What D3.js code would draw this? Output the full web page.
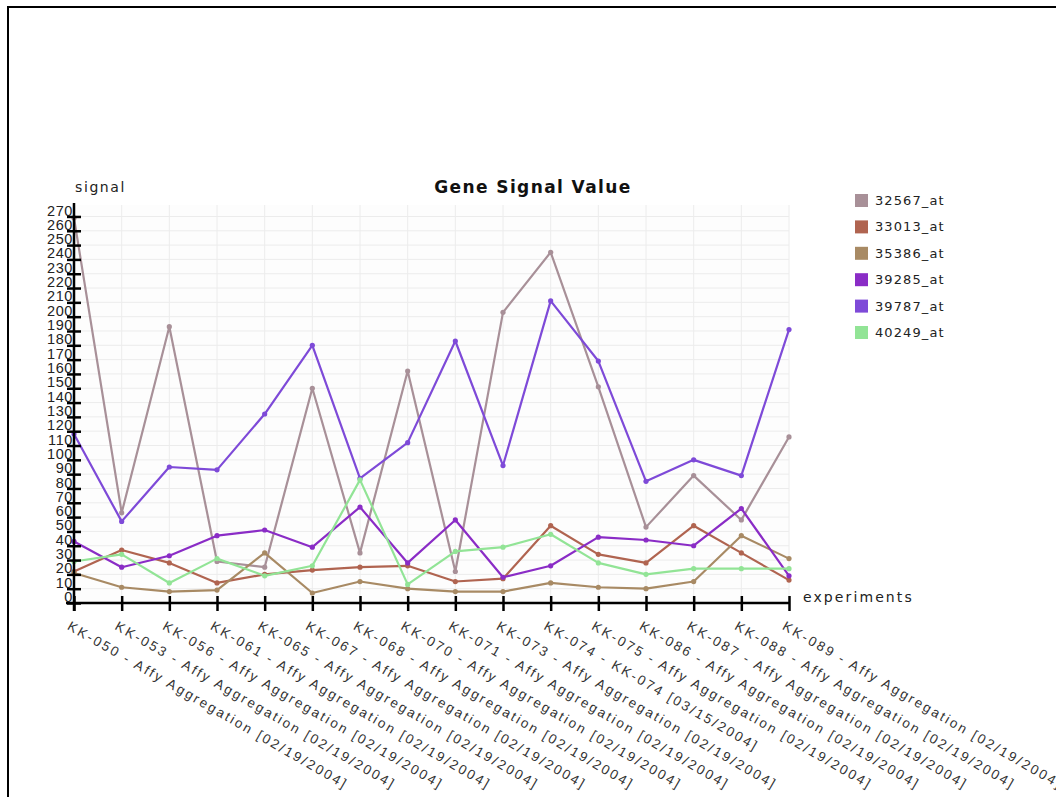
<!DOCTYPE html>
<html>
<head>
<meta charset="utf-8">
<script src="https://cdn.jsdelivr.net/npm/d3@7.9.0/dist/d3.min.js"></script>
<style>
  body { margin: 0; background: #fff; }
  svg { display: block; font-family: 'DejaVu Sans', Verdana, sans-serif; }
</style>
</head>
<body>
<div id="chart"></div>
<script>
const experiments = [
  'KK-050 - Affy Aggregation [02/19/2004]',
  'KK-053 - Affy Aggregation [02/19/2004]',
  'KK-056 - Affy Aggregation [02/19/2004]',
  'KK-061 - Affy Aggregation [02/19/2004]',
  'KK-065 - Affy Aggregation [02/19/2004]',
  'KK-067 - Affy Aggregation [02/19/2004]',
  'KK-068 - Affy Aggregation [02/19/2004]',
  'KK-070 - Affy Aggregation [02/19/2004]',
  'KK-071 - Affy Aggregation [02/19/2004]',
  'KK-073 - Affy Aggregation [02/19/2004]',
  'KK-074 - KK-074 [03/15/2004]',
  'KK-075 - Affy Aggregation [02/19/2004]',
  'KK-086 - Affy Aggregation [02/19/2004]',
  'KK-087 - Affy Aggregation [02/19/2004]',
  'KK-088 - Affy Aggregation [02/19/2004]',
  'KK-089 - Affy Aggregation [02/19/2004]'
];

const genes = ['32567_at', '33013_at', '35386_at', '39285_at', '39787_at', '40249_at'];
const geneColors = ['#a89098', '#b06450', '#a88a64', '#8a2cc6', '#7e4ad8', '#92e496'];

const s32567 = [269, 63, 193, 29, 25, 150, 35, 162, 22, 203, 245, 151, 53, 89, 58, 116];
const s33013 = [22, 37, 28, 14, 20, 23, 25, 26, 15, 17, 54, 34, 28, 54, 35, 16];
const s35386 = [21, 11, 8, 9, 35, 7, 15, 10, 8, 8, 14, 11, 10, 15, 47, 31];
const s39285 = [43, 25, 33, 47, 51, 39, 67, 28, 58, 18, 26, 46, 44, 40, 66, 19];
const s39787 = [118, 57, 95, 93, 132, 180, 87, 112, 183, 96, 211, 169, 85, 100, 89, 191];
const s40249 = [29, 34, 14, 31, 19, 26, 86, 13, 36, 39, 48, 28, 20, 24, 24, 24];

const yTicks = d3.range(0, 271, 10);

const seriesValues = [s32567, s33013, s35386, s39285, s39787, s40249];

function renderChart() {
  const width = 1056;
  const height = 797;

  const svg = d3.select('#chart')
    .append('svg')
    .attr('width', width)
    .attr('height', height);

  // frame around the image
  svg.append('path')
    .attr('d', `M8,${height} L8,7 L${width},7`)
    .attr('fill', 'none')
    .attr('stroke', '#000')
    .attr('stroke-width', 2);

  const plot = { left: 74, right: 789, top: 205, bottom: 603 };

  const xScale = d3.scalePoint()
    .domain(experiments)
    .range([plot.left, plot.right]);

  const yScale = d3.scaleLinear()
    .domain([0, 278])
    .range([plot.bottom, plot.top]);

  // panel background and gridlines
  svg.append('rect')
    .attr('x', plot.left)
    .attr('y', plot.top)
    .attr('width', plot.right - plot.left)
    .attr('height', plot.bottom - plot.top)
    .attr('fill', '#fdfdfd');

  const grid = svg.append('g').attr('class', 'grid');
  grid.selectAll('line.h')
    .data(yTicks)
    .join('line')
    .attr('class', 'h')
    .attr('x1', plot.left)
    .attr('x2', plot.right)
    .attr('y1', (d) => yScale(d))
    .attr('y2', (d) => yScale(d))
    .attr('stroke', '#ececec')
    .attr('stroke-width', 1);
  grid.selectAll('line.v')
    .data(experiments)
    .join('line')
    .attr('class', 'v')
    .attr('x1', (d) => xScale(d))
    .attr('x2', (d) => xScale(d))
    .attr('y1', plot.top)
    .attr('y2', plot.bottom)
    .attr('stroke', '#ececec')
    .attr('stroke-width', 1);

  // series
  const line = d3.line()
    .x((d, i) => xScale(experiments[i]))
    .y((d) => yScale(d));

  const series = svg.append('g').attr('class', 'series')
    .selectAll('g')
    .data(seriesValues)
    .join('g');

  series.append('path')
    .attr('d', (d) => line(d))
    .attr('fill', 'none')
    .attr('stroke', (d, i) => geneColors[i])
    .attr('stroke-width', 2.2)
    .attr('stroke-linejoin', 'round');

  series.each(function (vals, i) {
    d3.select(this).selectAll('circle')
      .data(vals)
      .join('circle')
      .attr('cx', (d, j) => xScale(experiments[j]))
      .attr('cy', (d) => yScale(d))
      .attr('r', 2.6)
      .attr('fill', geneColors[i]);
  });

  // axes
  const xAxis = svg.append('g')
    .attr('transform', `translate(0, ${plot.bottom})`)
    .call(d3.axisBottom(xScale).tickSize(0).tickFormat('').tickSizeOuter(0));
  xAxis.select('.domain')
    .attr('d', `M${plot.left - 8},0 H${plot.right + 1}`)
    .attr('stroke', '#000')
    .attr('stroke-width', 2.5);
  xAxis.selectAll('.tick line')
    .attr('y1', -7)
    .attr('y2', 8)
    .attr('stroke', '#000')
    .attr('stroke-width', 2.5);

  xAxis.selectAll('.tick')
    .append('text')
    .attr('transform', 'translate(-3, 17) rotate(30)')
    .attr('dy', '0.75em')
    .attr('text-anchor', 'start')
    .attr('fill', '#333')
    .attr('font-size', 13.5)
    .attr('letter-spacing', 2.3)
    .text((d) => d);

  const yAxis = svg.append('g')
    .attr('transform', `translate(${plot.left}, 0)`)
    .call(d3.axisLeft(yScale).tickValues(yTicks).tickSizeOuter(0));
  yAxis.select('.domain')
    .attr('d', `M0,${plot.top - 2} V${plot.bottom + 8}`)
    .attr('stroke', '#000')
    .attr('stroke-width', 2.5);
  yAxis.selectAll('.tick line')
    .attr('x1', -7)
    .attr('x2', 7)
    .attr('stroke', '#000')
    .attr('stroke-width', 2.5);
  yAxis.selectAll('.tick text')
    .attr('x', -1)
    .attr('dy', '-0.1em')
    .attr('fill', '#222')
    .attr('font-size', 14.5)
    .attr('letter-spacing', 0.6);

  // titles
  svg.append('text')
    .attr('x', 533)
    .attr('y', 193)
    .attr('text-anchor', 'middle')
    .attr('font-size', 17)
    .attr('font-weight', 'bold')
    .attr('fill', '#111')
    .attr('letter-spacing', 1.4)
    .text('Gene Signal Value');

  svg.append('text')
    .attr('x', 75)
    .attr('y', 192)
    .attr('font-size', 14)
    .attr('fill', '#222')
    .attr('letter-spacing', 1.6)
    .text('signal');

  svg.append('text')
    .attr('x', 803)
    .attr('y', 602)
    .attr('font-size', 14)
    .attr('fill', '#222')
    .attr('letter-spacing', 2.1)
    .text('experiments');

  // legend
  const legend = svg.append('g')
    .attr('transform', 'translate(855, 194)')
    .selectAll('g')
    .data(genes)
    .join('g')
    .attr('transform', (d, i) => `translate(0, ${i * 26.4})`);
  legend.append('rect')
    .attr('width', 13)
    .attr('height', 13)
    .attr('fill', (d, i) => geneColors[i]);
  legend.append('text')
    .attr('x', 20)
    .attr('y', 11)
    .attr('font-size', 13)
    .attr('fill', '#222')
    .attr('letter-spacing', 1.1)
    .text((d) => d);
}

renderChart();
</script>
</body>
</html>
